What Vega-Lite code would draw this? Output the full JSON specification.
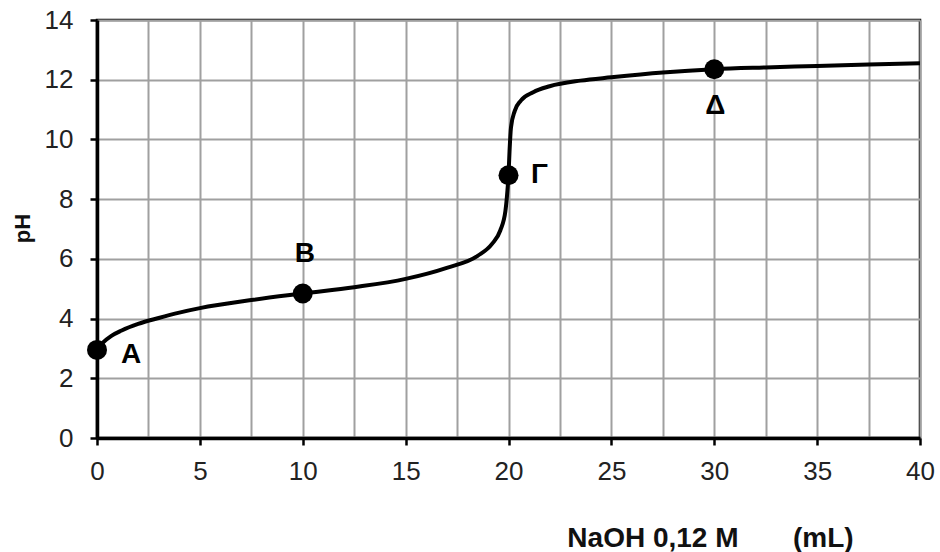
{
  "$schema": "https://vega.github.io/schema/vega-lite/v6.json",
  "width": 823,
  "height": 418,
  "autosize": {"type": "none"},
  "padding": {"left": 97, "top": 20, "right": 20, "bottom": 114},
  "background": "white",
  "config": {
    "view": {"stroke": "#000", "strokeWidth": 2.5},
    "font": "Liberation Sans"
  },
  "datasets": {
    "curve": [
      {"v": 0, "ph": 2.95}, {"v": 0.3, "ph": 3.2}, {"v": 0.7, "ph": 3.42}, {"v": 1.2, "ph": 3.6},
      {"v": 2, "ph": 3.82}, {"v": 3, "ph": 4.02}, {"v": 4, "ph": 4.2}, {"v": 5, "ph": 4.35},
      {"v": 7.5, "ph": 4.62}, {"v": 10, "ph": 4.84}, {"v": 12.5, "ph": 5.05}, {"v": 15, "ph": 5.33},
      {"v": 17, "ph": 5.7}, {"v": 18.5, "ph": 6.1}, {"v": 19.2, "ph": 6.5}, {"v": 19.6, "ph": 6.95},
      {"v": 19.85, "ph": 7.6}, {"v": 19.95, "ph": 8.3}, {"v": 20, "ph": 8.8}, {"v": 20.05, "ph": 9.6},
      {"v": 20.12, "ph": 10.4}, {"v": 20.3, "ph": 10.95}, {"v": 20.6, "ph": 11.3}, {"v": 21.2, "ph": 11.58},
      {"v": 22, "ph": 11.78}, {"v": 23.5, "ph": 11.97}, {"v": 25, "ph": 12.08}, {"v": 27.5, "ph": 12.24},
      {"v": 30, "ph": 12.35}, {"v": 32.5, "ph": 12.41}, {"v": 35, "ph": 12.46}, {"v": 37.5, "ph": 12.51},
      {"v": 40, "ph": 12.55}
    ],
    "points": [
      {"v": 0, "ph": 2.95, "label": "Α"},
      {"v": 10, "ph": 4.84, "label": "Β"},
      {"v": 20, "ph": 8.8, "label": "Γ"},
      {"v": 30, "ph": 12.35, "label": "Δ"}
    ]
  },
  "encoding": {
    "x": {
      "field": "v", "type": "quantitative",
      "scale": {"domain": [0, 40], "nice": false, "zero": false},
      "axis": {
        "values": [0, 2.5, 5, 7.5, 10, 12.5, 15, 17.5, 20, 22.5, 25, 27.5, 30, 32.5, 35, 37.5, 40],
        "labelExpr": "datum.value % 5 === 0 ? datum.label : ''",
        "tickOpacity": {"condition": {"test": "datum.value % 5 !== 0", "value": 0}, "value": 1},
        "gridColor": "#a0a0a0", "gridWidth": 2,
        "domainColor": "#000", "domainWidth": 3.5,
        "tickColor": "#000", "tickWidth": 2.5, "tickSize": 7,
        "labelFontSize": 26, "labelColor": "#222", "labelPadding": 13, "labelFlush": false,
        "title": "NaOH 0,12 M\u00a0\u00a0\u00a0\u00a0\u00a0\u00a0\u00a0(mL)",
        "titleFontSize": 28, "titleFontWeight": "bold", "titleColor": "#111",
        "titleX": 613, "titleY": 108, "titleAlign": "center", "titleBaseline": "alphabetic"
      }
    },
    "y": {
      "field": "ph", "type": "quantitative",
      "scale": {"domain": [0, 14], "nice": false, "zero": false},
      "axis": {
        "values": [0, 2, 4, 6, 8, 10, 12, 14],
        "gridColor": "#a0a0a0", "gridWidth": 2,
        "domainColor": "#000", "domainWidth": 3.5,
        "tickColor": "#000", "tickWidth": 2.5, "tickSize": 7,
        "labelFontSize": 26, "labelColor": "#222", "labelPadding": 17,
        "title": "pH",
        "titleFontSize": 22, "titleFontWeight": "bold", "titleColor": "#111",
        "titleX": -75, "titleY": 208, "titleAlign": "center", "titleBaseline": "middle"
      }
    }
  },
  "layer": [
    {
      "data": {"name": "curve"},
      "mark": {"type": "line", "color": "#000", "strokeWidth": 4, "interpolate": "monotone", "clip": false}
    },
    {
      "data": {"name": "points"},
      "mark": {"type": "point", "filled": true, "color": "#000", "opacity": 1, "size": 400, "shape": "circle"}
    },
    {
      "data": {"name": "points"},
      "transform": [{"filter": "datum.label == 'Α'"}],
      "mark": {"type": "text", "fontSize": 28, "fontWeight": "bold", "color": "#000", "baseline": "middle", "dx": 34, "dy": 5},
      "encoding": {"text": {"field": "label"}}
    },
    {
      "data": {"name": "points"},
      "transform": [{"filter": "datum.label == 'Β'"}],
      "mark": {"type": "text", "fontSize": 28, "fontWeight": "bold", "color": "#000", "baseline": "middle", "dx": 2, "dy": -39},
      "encoding": {"text": {"field": "label"}}
    },
    {
      "data": {"name": "points"},
      "transform": [{"filter": "datum.label == 'Γ'"}],
      "mark": {"type": "text", "fontSize": 28, "fontWeight": "bold", "color": "#000", "baseline": "middle", "dx": 31, "dy": 0},
      "encoding": {"text": {"field": "label"}}
    },
    {
      "data": {"name": "points"},
      "transform": [{"filter": "datum.label == 'Δ'"}],
      "mark": {"type": "text", "fontSize": 28, "fontWeight": "bold", "color": "#000", "baseline": "middle", "dx": 1, "dy": 37},
      "encoding": {"text": {"field": "label"}}
    }
  ]
}
